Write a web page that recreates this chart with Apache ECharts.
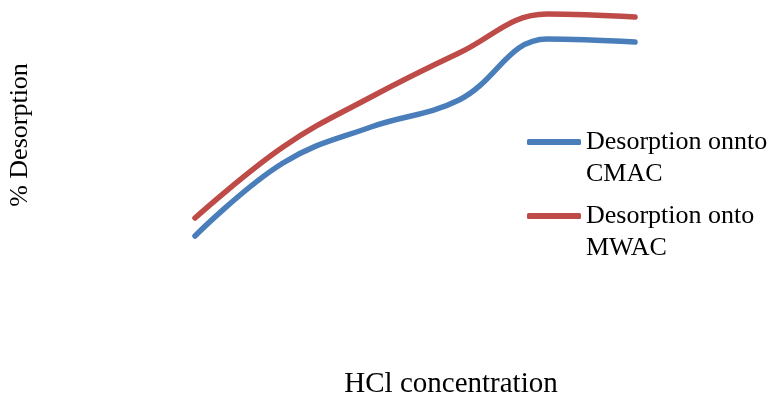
<!DOCTYPE html>
<html><head><meta charset="utf-8">
<script src="https://cdn.jsdelivr.net/npm/echarts@6/dist/echarts.min.js"></script>
<style>html,body{margin:0;padding:0;background:#fff}#c{width:771px;height:396px}</style>
</head><body><div id="c"></div>
<script>
var categories = ["0.1", "0.2", "0.3", "0.4", "0.5", "0.6"];
var cmac = [9.6, 38.8, 53.2, 64.0, 88.4, 87.2];
var mwac = [16.8, 45.2, 65.2, 82.8, 98.4, 97.2];
var seriesNames = ["Desorption onnto\nCMAC", "Desorption onto\nMWAC"];
var xTitle = "HCl concentration";
var yTitle = "% Desorption";

var font = "'Liberation Serif', 'Times New Roman', serif";
var chart = echarts.init(document.getElementById('c'));
var legendText = {
  fontFamily: font, fontSize: 26, color: '#000', lineHeight: 32,
  rich: {
    e: {fontFamily: font, fontSize: 26, lineHeight: 32},
    t: {fontFamily: font, fontSize: 26, lineHeight: 32, color: '#000'}
  }
};
function legendFmt(name) {
  var p = name.split('\n');
  return '{e| }\n{t|' + p[0] + '}\n{t|' + p[1] + '}';
}
chart.setOption({
  animation: false,
  grid: {left: 195, right: 136, top: 10, bottom: 136, containLabel: false, outerBoundsMode: 'none'},
  legend: [
    {data: [seriesNames[0]], left: 527, top: 94, padding: 0, itemWidth: 54, itemHeight: 6, icon: 'roundRect', textStyle: legendText, formatter: legendFmt},
    {data: [seriesNames[1]], left: 527, top: 168, padding: 0, itemWidth: 54, itemHeight: 6, icon: 'roundRect', textStyle: legendText, formatter: legendFmt}
  ],
  xAxis: {
    type: 'category', data: categories, boundaryGap: false,
    axisLine: {show: false}, axisTick: {show: false}, axisLabel: {show: false}, splitLine: {show: false},
    name: xTitle, nameLocation: 'middle', nameGap: 110,
    nameTextStyle: {fontFamily: font, fontSize: 29, color: '#000', padding: [0, 0, 0, 72]}
  },
  yAxis: {
    type: 'value', min: 0, max: 100,
    axisLine: {show: false}, axisTick: {show: false}, axisLabel: {show: false}, splitLine: {show: false},
    name: yTitle, nameLocation: 'middle', nameGap: 162,
    nameTextStyle: {fontFamily: font, fontSize: 26, color: '#000'}
  },
  series: [
    {name: seriesNames[0], type: 'line', data: cmac, smooth: 0.4, showSymbol: false, color: '#4A7EBB',
     lineStyle: {width: 5.5, cap: 'round', join: 'round'}},
    {name: seriesNames[1], type: 'line', data: mwac, smooth: 0.4, showSymbol: false, color: '#BE4B48',
     lineStyle: {width: 5.5, cap: 'round', join: 'round'}}
  ]
});
</script></body></html>
